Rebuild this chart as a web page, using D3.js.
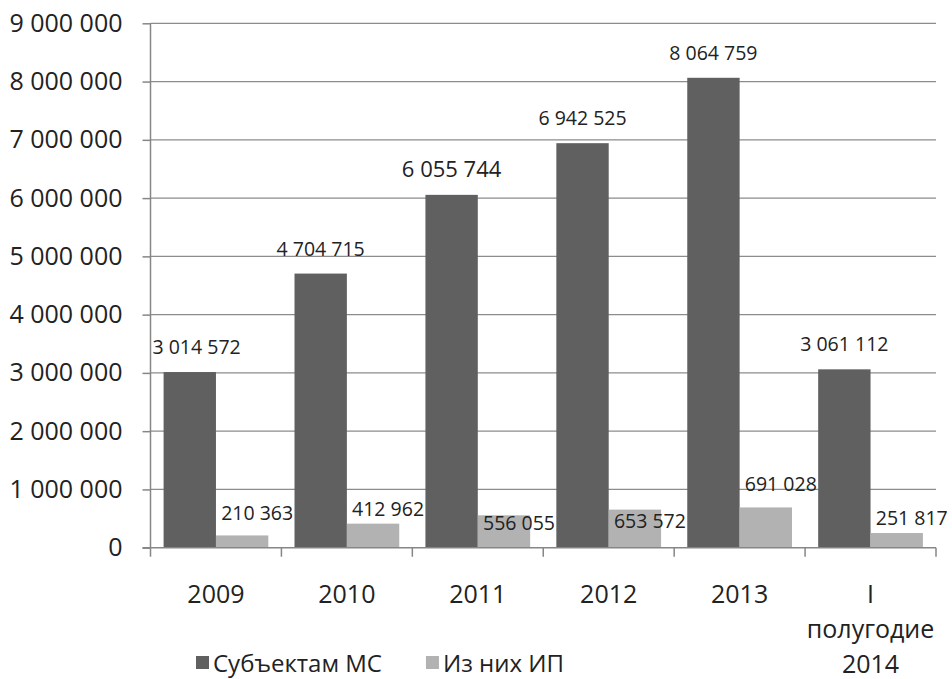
<!DOCTYPE html>
<html>
<head>
<meta charset="utf-8">
<script src="https://cdn.jsdelivr.net/npm/d3@7"></script>
<style>
  body { margin: 0; background: #fff; }
  text { font-family: 'Open Sans', sans-serif; fill: #222; }
</style>
</head>
<body>
<div id="chart"></div>
<script>
'use strict';

// data
const categories = ['2009', '2010', '2011', '2012', '2013', 'I полугодие 2014'];
const tickLines = [['2009'], ['2010'], ['2011'], ['2012'], ['2013'], ['I', 'полугодие', '2014']];
const seriesNames = ['Субъектам МС', 'Из них ИП'];
const subjectsMS = [3014572, 4704715, 6055744, 6942525, 8064759, 3061112];
const ofWhichIP = [210363, 412962, 556055, 653572, 691028, 251817];
const yTicks = [0, 1000000, 2000000, 3000000, 4000000, 5000000, 6000000, 7000000, 8000000, 9000000];

const colors = ['#606060', '#b2b2b2'];

const dims = { width: 952, height: 679, left: 150.5, right: 936, top: 23.3, bottom: 547.7 };

// labels of the light series were hand placed in the original, keep the nudges
const ipLabelLift = [15, 8, -15, -18, 16, 8];

const fmt = d3.formatLocale({ decimal: ',', thousands: ' ', grouping: [3], currency: ['', ''] }).format(',d');

const rows = categories.map((c, i) => ({ cat: c, values: [subjectsMS[i], ofWhichIP[i]] }));

const svg = d3.select('#chart').append('svg')
  .attr('width', dims.width)
  .attr('height', dims.height);

const x0 = d3.scaleBand()
  .domain(categories)
  .range([dims.left, dims.right])
  .paddingInner(0)
  .paddingOuter(0);

const x1 = d3.scaleBand()
  .domain(seriesNames)
  .range([0, x0.bandwidth()])
  .paddingInner(0)
  .paddingOuter(0.25);

const y = d3.scaleLinear()
  .domain([0, 9000000])
  .range([dims.bottom, dims.top]);

// gridlines
svg.append('g')
  .selectAll('line')
  .data(yTicks.slice(1))
  .join('line')
  .attr('x1', dims.left)
  .attr('x2', dims.right)
  .attr('y1', d => y(d))
  .attr('y2', d => y(d))
  .attr('stroke', '#8c8c8c')
  .attr('stroke-width', 1.3);

// bars
const groups = svg.append('g')
  .selectAll('g')
  .data(rows)
  .join('g')
  .attr('transform', d => `translate(${x0(d.cat)},0)`);

groups.selectAll('rect')
  .data(d => d.values.map((v, k) => ({ key: seriesNames[k], k: k, value: v })))
  .join('rect')
  .attr('x', d => x1(d.key))
  .attr('y', d => y(d.value))
  .attr('width', x1.bandwidth())
  .attr('height', d => y(0) - y(d.value))
  .attr('fill', d => colors[d.k]);

// y axis
const yAxis = d3.axisLeft(y)
  .tickValues(yTicks)
  .tickSize(8)
  .tickPadding(20)
  .tickFormat(fmt);

const yG = svg.append('g')
  .attr('transform', `translate(${dims.left},0)`)
  .call(yAxis);
yG.selectAll('path, line').attr('stroke', '#868686').attr('stroke-width', 1.5);
yG.select('.domain').attr('d', `M0,${dims.top}V${dims.bottom}`);
yG.selectAll('text')
  .style('font-size', '25px')
  .attr('fill', '#222');

// x axis
const xAxis = d3.axisBottom(x0)
  .tickSize(0)
  .tickFormat('');

const xG = svg.append('g')
  .attr('transform', `translate(0,${dims.bottom})`)
  .call(xAxis);
xG.select('.domain').attr('d', `M${dims.left - 8},0H${dims.right}`)
  .attr('stroke', '#868686').attr('stroke-width', 1.5);

// category separators
xG.append('g')
  .selectAll('line')
  .data(categories.concat(['end']))
  .join('line')
  .attr('x1', (d, i) => i < categories.length ? x0(d) : dims.right)
  .attr('x2', (d, i) => i < categories.length ? x0(d) : dims.right)
  .attr('y1', 0)
  .attr('y2', 9)
  .attr('stroke', '#868686')
  .attr('stroke-width', 1.5);

// category labels
categories.forEach((c, i) => {
  const t = xG.append('text')
    .attr('x', x0(c) + x0.bandwidth() / 2)
    .attr('y', 55)
    .attr('text-anchor', 'middle')
    .style('font-size', '25px');
  tickLines[i].forEach((line, j) => {
    t.append('tspan')
      .attr('x', x0(c) + x0.bandwidth() / 2)
      .attr('dy', j === 0 ? 0 : 35)
      .text(line);
  });
});

// data labels
const labG = svg.append('g');
rows.forEach((r, i) => {
  // dark series, centered above the bar
  const cx = x0(r.cat) + x1(seriesNames[0]) + x1.bandwidth() / 2;
  const t = labG.append('text')
    .attr('x', cx)
    .attr('y', y(r.values[0]) - 18)
    .attr('text-anchor', 'middle')
    .style('font-size', i === 2 ? '22px' : '19.5px')
    .text(fmt(r.values[0]));
  const w = t.node().getComputedTextLength();
  if (cx - w / 2 < dims.left + 2) {
    t.attr('x', dims.left + 2 + w / 2);
  }

  // light series, nudged right
  const cx2 = x0(r.cat) + x1(seriesNames[1]) + x1.bandwidth() / 2 + 15;
  labG.append('text')
    .attr('x', cx2)
    .attr('y', y(r.values[1]) - ipLabelLift[i])
    .attr('text-anchor', 'middle')
    .style('font-size', '19.5px')
    .text(fmt(r.values[1]));
});

// legend
const legend = svg.append('g')
  .attr('transform', 'translate(196,0)');
let lx = 0;
seriesNames.forEach((s, i) => {
  legend.append('rect')
    .attr('x', lx)
    .attr('y', 656)
    .attr('width', 13)
    .attr('height', 13)
    .attr('fill', colors[i]);
  const t = legend.append('text')
    .attr('x', lx + 17)
    .attr('y', 672)
    .style('font-size', '24px')
    .text(s);
  lx += 17 + t.node().getComputedTextLength() + 44;
});
</script>
</body>
</html>
